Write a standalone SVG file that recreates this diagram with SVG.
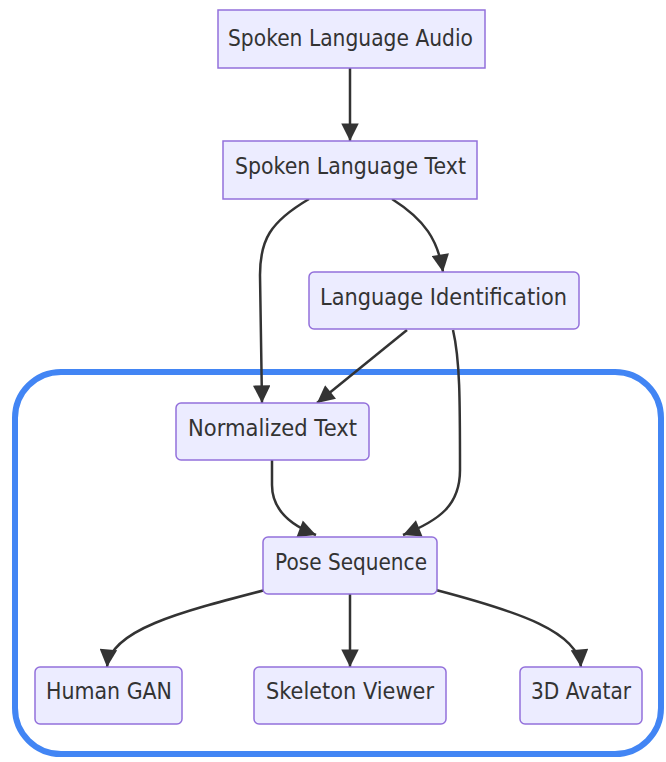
<svg xmlns="http://www.w3.org/2000/svg" width="666" height="762" viewBox="0 0 666 762">
<defs>
<marker id="arr" viewBox="0 0 10 10" refX="10" refY="5" markerWidth="7.5" markerHeight="7" markerUnits="strokeWidth" orient="auto">
<path d="M0,0 L10,5 L0,10 z" fill="#333333"/>
</marker>
</defs>
<style>
.node rect{fill:#ECECFF;stroke:#9370DB;stroke-width:1.5}
.node text{font-family:"DejaVu Sans","Liberation Sans",sans-serif;font-size:23px;fill:#333333;text-anchor:middle;dominant-baseline:central}
.edge{fill:none;stroke:#333333;stroke-width:2.5;marker-end:url(#arr)}
</style>
<rect width="666" height="762" fill="#ffffff"/>
<rect x="15" y="372" width="646" height="382" rx="46" ry="46" fill="none" stroke="#4285F4" stroke-width="6"/>
<g id="connectors">
<path class="edge" d="M350,68 L350,141"/>
<path class="edge" d="M309,199 C270,222 260,240 260,275 L262,403"/>
<path class="edge" d="M392,199 C425,220 438,240 443,272"/>
<path class="edge" d="M407,330 L317,403"/>
<path class="edge" d="M453,330 C460,360 460,400 460,470 C460,505 440,520 403,535"/>
<path class="edge" d="M272,460 L272,485 C272,510 290,525 316,535"/>
<path class="edge" d="M265,590 C180,612 110,630 107,667"/>
<path class="edge" d="M350,594 L350,667"/>
<path class="edge" d="M436,590 C520,612 578,632 581,667"/>
</g>
<g id="audio" class="node"><rect x="218" y="10" width="267" height="58"/><text x="350.5" y="38" textLength="245" lengthAdjust="spacingAndGlyphs">Spoken Language Audio</text></g>
<g id="text" class="node"><rect x="223" y="141" width="254" height="58"/><text x="350.5" y="166" textLength="231" lengthAdjust="spacingAndGlyphs">Spoken Language Text</text></g>
<g id="langid" class="node"><rect x="309" y="272" width="270" height="57" rx="5"/><text x="443.5" y="297" textLength="247" lengthAdjust="spacingAndGlyphs">Language Identification</text></g>
<g id="normalized" class="node"><rect x="176" y="403" width="193" height="57" rx="5"/><text x="272.5" y="428" textLength="169" lengthAdjust="spacingAndGlyphs">Normalized Text</text></g>
<g id="pose" class="node"><rect x="263" y="537" width="174" height="57" rx="5"/><text x="351" y="562" textLength="152" lengthAdjust="spacingAndGlyphs">Pose Sequence</text></g>
<g id="gan" class="node"><rect x="35" y="667" width="147" height="57" rx="5"/><text x="109" y="691" textLength="126" lengthAdjust="spacingAndGlyphs">Human GAN</text></g>
<g id="skeleton" class="node"><rect x="254" y="667" width="192" height="57" rx="5"/><text x="350" y="691" textLength="168" lengthAdjust="spacingAndGlyphs">Skeleton Viewer</text></g>
<g id="avatar" class="node"><rect x="520" y="667" width="122" height="57" rx="5"/><text x="581" y="691" textLength="100" lengthAdjust="spacingAndGlyphs">3D Avatar</text></g>
</svg>
